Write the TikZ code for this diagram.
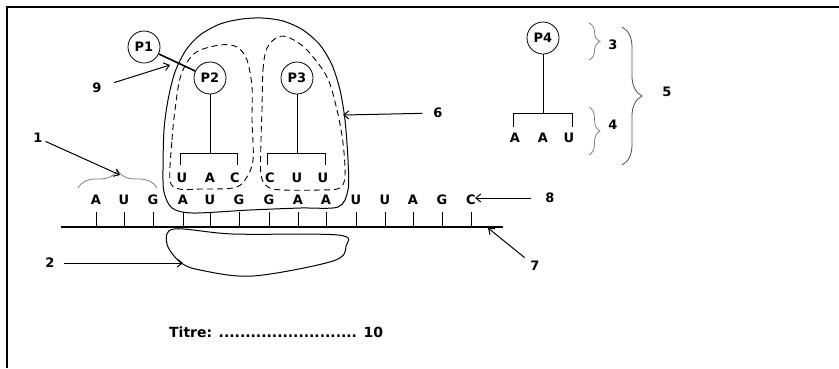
\documentclass[tikz,border=0pt]{standalone}
\usepackage{fontspec}
\setmainfont{DejaVu Sans}
\usetikzlibrary{arrows.meta}
\usetikzlibrary{decorations.pathreplacing}

\begin{document}
\begin{tikzpicture}[x=1pt, y=-1pt,
	lbl/.style = {font=\fontsize{13}{15}\selectfont\bfseries, inner sep=1pt},
	base/.style = {font=\fontsize{13}{15}\selectfont\bfseries, inner sep=0pt},
	amino/.style = {draw, circle, line width=0.8pt, minimum size=32pt, inner sep=0pt, font=\fontsize{13}{15}\selectfont\bfseries},
	ptr/.style = {-{Straight Barb[length=5pt,width=8pt]}, line width=1pt},
	grbrace/.style = {decorate, decoration={brace}, gray, line width=0.8pt},
	site/.style = {dash pattern=on 6pt off 4pt, line width=0.9pt}]
	\useasboundingbox (0,0) rectangle (839,368);
	\draw [line width = 2pt] (7,368) -- (7,7) -- (839,7);
	
	% ribosome
	\draw [line width = 1pt] plot [smooth cycle, tension=0.5] coordinates {(172,208) (164,192) (163,170) (164,130) (168,100) (175,72) (186,50) (200,35) (220,24) (242,19) (262,18) (283,21) (303,30) (320,45) (332,65) (340,90) (345,120) (348,160) (348,190) (338,207) (300,208) (250,210) (193,213)};
	\draw [site] plot [smooth cycle, tension=0.55] coordinates {(170,180) (172,140) (175,110) (181,75) (195,53) (220,45) (237,47) (247,60) (252,87) (252,120) (253,160) (245,180) (233,188) (200,189) (179,189)};
	\draw [site] plot [smooth cycle, tension=0.55] coordinates {(262,110) (263,70) (267,48) (278,37) (290,38) (307,50) (327,77) (337,110) (343,143) (345,175) (340,188) (320,190) (283,190) (268,187) (261,175) (261,140)};
	\draw [line width = 1pt] plot [smooth cycle, tension=0.55] coordinates {(174,229) (233,234) (338,235) (346,246) (333,261) (253,276) (200,270) (180,262) (167,244)};
	
	% mRNA
	\draw [line width = 1.2pt] (61,227) -- (503,227);
	\foreach \x/\b [count=\n] in {96/A,124/U,153/G,183/A,210/U,239/G,269/G,298/A,326/A,356/U,385/U,413/A,442/G,471/C}{
		\node [base] (m\n) at (\x,200) {\b};
		\draw [line width = 0.9pt] (\x,212) -- (\x,227);
	}
	\draw [grbrace, decoration={amplitude=18pt}] (78,188) -- (157,188);
	
	% tRNA
	\node [amino] (p1) at (144,47) {P1};
	\node [amino] (p2) at (210,78) {P2};
	\node [amino] (p3) at (297,78) {P3};
	\draw [line width = 1.6pt] (p1) -- (p2);
	\draw [line width = 1pt] (p2.south) -- (210,153);
	\draw [line width = 1pt] (180,165) -- (180,153) -- (237,153) -- (237,165);
	\draw [line width = 1pt] (p3.south) -- (297,153);
	\draw [line width = 1pt] (267,165) -- (267,153) -- (325,153) -- (325,165);
	\foreach \x/\b [count=\n] in {182/U,210/A,235/C,270/C,297/U,323/U}
		\node [base] (a\n) at (\x,178) {\b};
	
	% legend tRNA
	\node [amino] (p4) at (543,38) {P4};
	\draw [line width = 1pt] (p4.south) -- (543,113);
	\draw [line width = 1pt] (513,127) -- (513,113) -- (572,113) -- (572,127);
	\foreach \x/\b [count=\n] in {515/A,543/A,569/U}
		\node [base] (c\n) at (\x,138) {\b};
	\draw [grbrace, decoration={amplitude=11pt}] (589,23) -- (589,60);
	\draw [grbrace, decoration={amplitude=11pt}] (589,107) -- (589,155);
	\draw [grbrace, black!70, decoration={amplitude=20pt}] (622,27) -- (622,165);
	\node [lbl] (n3) at (613,45) {3};
	\node [lbl] (n4) at (613,125) {4};
	\node [lbl] (n5) at (667,92) {5};
	
	% labels
	\node [lbl] (n1) at (38,138) {1};
	\node [lbl] (n2) at (50,263) {2};
	\node [lbl] (n6) at (438,113) {6};
	\node [lbl] (n7) at (535,266) {7};
	\node [lbl] (n8) at (550,198) {8};
	\node [lbl] (n9) at (97,88) {9};
	\coordinate (t1) at (120,175);
	\coordinate (t2) at (183,263);
	\coordinate (t6) at (343,115);
	\coordinate (t7) at (488,228);
	\coordinate (t8) at (475,198);
	\coordinate (t9) at (170,65);
	\draw [ptr, shorten <=2pt] (n1) -- (t1);
	\draw [ptr, shorten <=8pt] (n2) -- (t2);
	\draw [ptr, shorten <=10pt] (n6) -- (t6);
	\draw [ptr, shorten <=6pt] (n7) -- (t7);
	\draw [ptr, shorten <=13pt] (n8) -- (t8);
	\draw [ptr, shorten <=12pt] (n9) -- (t9);
	
	\node [lbl, anchor=west, font=\fontsize{14}{16}\selectfont\bfseries] (titre) at (168,332) {Titre: .......................... 10};
\end{tikzpicture}
\end{document}
